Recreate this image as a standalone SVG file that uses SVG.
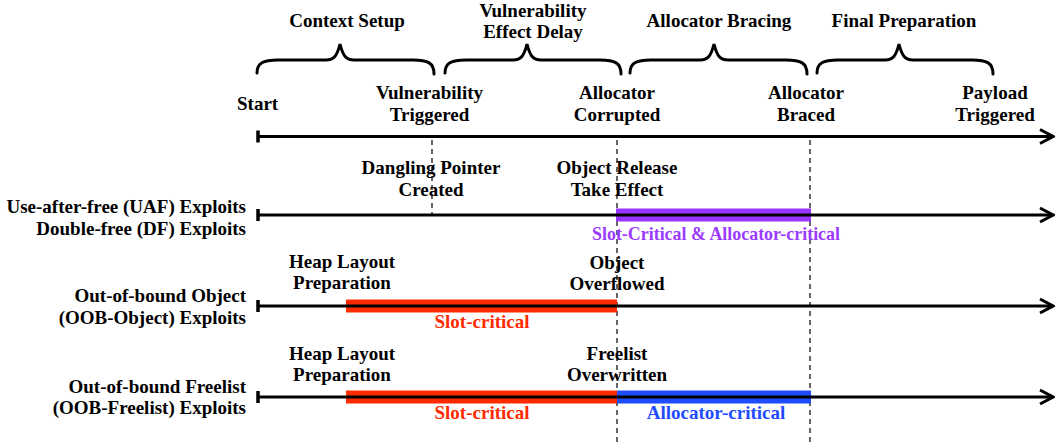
<svg xmlns="http://www.w3.org/2000/svg" width="1055" height="444" viewBox="0 0 1055 444">
<style>
text{font-family:"Liberation Serif","Times New Roman",serif;font-weight:bold;font-size:19px;fill:#000}
.c{text-anchor:middle}
.e{text-anchor:end}
.tl{stroke:#000;stroke-width:3;fill:none}
.tick{stroke:#000;stroke-width:3.5}
.dash{stroke:#000;stroke-width:1.2;stroke-dasharray:5,4;fill:none}
.brace{stroke:#000;stroke-width:3;fill:none;stroke-linecap:round}
.red{fill:#FF2A00}
.blue{fill:#1F4CFF}
.purple{fill:#9933FF}
.tred{fill:#FF2A00}
.tblue{fill:#1F4CFF}
.tpurple{fill:#9B3BFF}
</style>
<defs>
<marker id="arr" markerUnits="userSpaceOnUse" markerWidth="20" markerHeight="20" viewBox="-16 -10 20 20" refX="0" refY="0" orient="auto">
<path d="M-13,-7 L0,0 L-13,7" fill="none" stroke="#000" stroke-width="3"/>
</marker>
</defs>

<g id="braces">
<path class="brace" d="M257,73 C257,63 263,60 278,60 L326,60 C334,60 337,56 340,44 C343,56 346,60 354,60 L413,60 C428,60 434,63 434,74"/>
<path class="brace" d="M445,73 C445,63 451,60 466,60 L513,60 C521,60 524,56 527,44 C530,56 533,60 541,60 L600,60 C615,60 621,63 621,74"/>
<path class="brace" d="M630,73 C630,63 636,60 651,60 L700,60 C708,60 711,56 714,44 C717,56 720,60 728,60 L786,60 C801,60 807,63 807,74"/>
<path class="brace" d="M817,73 C817,63 823,60 838,60 L885,60 C893,60 896,56 899,44 C902,56 905,60 913,60 L972,60 C987,60 993,63 993,74"/>
</g>

<g id="phase-labels">
<text class="c" x="347" y="27">Context Setup</text>
<text class="c" x="533" y="16.5">Vulnerability</text>
<text class="c" x="533" y="37.5">Effect Delay</text>
<text class="c" x="719" y="27">Allocator Bracing</text>
<text class="c" x="904" y="27">Final Preparation</text>
</g>

<g id="milestones">
<text x="237" y="110">Start</text>
<text class="c" x="429.5" y="99">Vulnerability</text>
<text class="c" x="429.5" y="120.5">Triggered</text>
<text class="c" x="617" y="99">Allocator</text>
<text class="c" x="617" y="120.5">Corrupted</text>
<text class="c" x="806" y="99">Allocator</text>
<text class="c" x="806" y="120.5">Braced</text>
<text class="c" x="995" y="99">Payload</text>
<text class="c" x="995" y="120.5">Triggered</text>
</g>

<g id="guides">
<line class="dash" x1="432" y1="140" x2="432" y2="215"/>
<line class="dash" x1="617" y1="140" x2="617" y2="444"/>
<line class="dash" x1="810" y1="140" x2="810" y2="444"/>
</g>

<g id="bars">
<rect class="purple" x="616" y="208.5" width="195" height="13"/>
<rect class="red" x="346" y="299.5" width="271" height="13"/>
<rect class="red" x="346" y="390.5" width="271" height="13"/>
<rect class="blue" x="617" y="390.5" width="194" height="13"/>
</g>

<g id="connectors">
<line class="tl" x1="258" y1="136.5" x2="1053" y2="136.5" marker-end="url(#arr)"/>
<line class="tick" x1="258" y1="130.5" x2="258" y2="142.5"/>
<line class="tl" x1="258" y1="215" x2="1053" y2="215" marker-end="url(#arr)"/>
<line class="tick" x1="258" y1="209" x2="258" y2="221"/>
<line class="tl" x1="258" y1="306" x2="1053" y2="306" marker-end="url(#arr)"/>
<line class="tick" x1="258" y1="300" x2="258" y2="312"/>
<line class="tl" x1="258" y1="397" x2="1053" y2="397" marker-end="url(#arr)"/>
<line class="tick" x1="258" y1="391" x2="258" y2="403"/>
</g>

<g id="row-uaf">
<text class="e" x="246" y="212.5">Use-after-free (UAF) Exploits</text>
<text class="e" x="246" y="234.5">Double-free (DF) Exploits</text>
<text class="c" x="431" y="174">Dangling Pointer</text>
<text class="c" x="431" y="195.5">Created</text>
<text class="c" x="617" y="174">Object Release</text>
<text class="c" x="617" y="195.5">Take Effect</text>
<text class="c tpurple" x="716" y="239.5" textLength="248" lengthAdjust="spacingAndGlyphs">Slot-Critical &amp; Allocator-critical</text>
</g>

<g id="row-oob-object">
<text class="e" x="246" y="302">Out-of-bound Object</text>
<text class="e" x="246" y="323.5">(OOB-Object) Exploits</text>
<text class="c" x="342" y="268">Heap Layout</text>
<text class="c" x="342" y="289">Preparation</text>
<text class="c" x="617" y="269">Object</text>
<text class="c" x="617" y="290">Overflowed</text>
<text class="c tred" x="482" y="328">Slot-critical</text>
</g>

<g id="row-oob-freelist">
<text class="e" x="246" y="392.5">Out-of-bound Freelist</text>
<text class="e" x="246" y="414">(OOB-Freelist) Exploits</text>
<text class="c" x="342" y="359.5">Heap Layout</text>
<text class="c" x="342" y="380.5">Preparation</text>
<text class="c" x="617" y="360">Freelist</text>
<text class="c" x="617" y="381">Overwritten</text>
<text class="c tred" x="482" y="419">Slot-critical</text>
<text class="c tblue" x="716" y="419">Allocator-critical</text>
</g>
</svg>
